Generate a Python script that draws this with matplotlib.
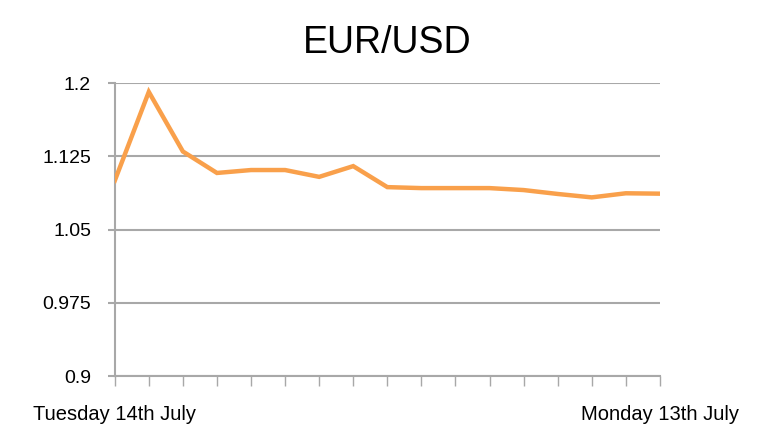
import matplotlib
matplotlib.use("Agg")
import matplotlib.pyplot as plt

plt.rcParams['font.family'] = ['Liberation Sans', 'DejaVu Sans']

values = [1.100, 1.191, 1.130, 1.108, 1.111, 1.111, 1.104, 1.115, 1.0935,
          1.0925, 1.0925, 1.0925, 1.0905, 1.0865, 1.083, 1.0872, 1.0868]
x_labels = ["Tuesday 14th July"] + [""] * 15 + ["Monday 13th July"]
y_ticks = [0.9, 0.975, 1.05, 1.125, 1.2]
y_tick_labels = ["0.9", "0.975", "1.05", "1.125", "1.2"]
title = "EUR/USD"

fig = plt.figure(figsize=(7.7, 4.42), dpi=100)
ax = fig.add_axes([0.149, 0.149, 0.708, 0.663])

x = list(range(len(values)))
ax.plot(x, values, color="#F9A04B", linewidth=3.2, solid_joinstyle="miter", zorder=3)

ax.set_xlim(0, len(values) - 1)
ax.set_ylim(0.9, 1.2)
ax.set_yticks(y_ticks)
ax.set_yticklabels(y_tick_labels)
ax.set_xticks(x)
ax.set_xticklabels(x_labels)

grid_c = "#A8A8A8"
ax.grid(axis="y", color=grid_c, linewidth=1.5, zorder=1)
ax.set_axisbelow(True)
for s in ["top", "right"]:
    ax.spines[s].set_visible(False)
for s in ["left", "bottom"]:
    ax.spines[s].set_color(grid_c)
    ax.spines[s].set_linewidth(1.5)

ax.tick_params(axis="x", direction="out", length=7, width=1, color=grid_c,
               labelsize=14.5, pad=14, labelcolor="black")
ax.tick_params(axis="y", direction="out", length=5, width=1.5, color=grid_c,
               labelsize=14, pad=12, labelcolor="black")

ax.set_title(title, fontsize=27, pad=22)

fig.savefig("out.png", dpi=100)
